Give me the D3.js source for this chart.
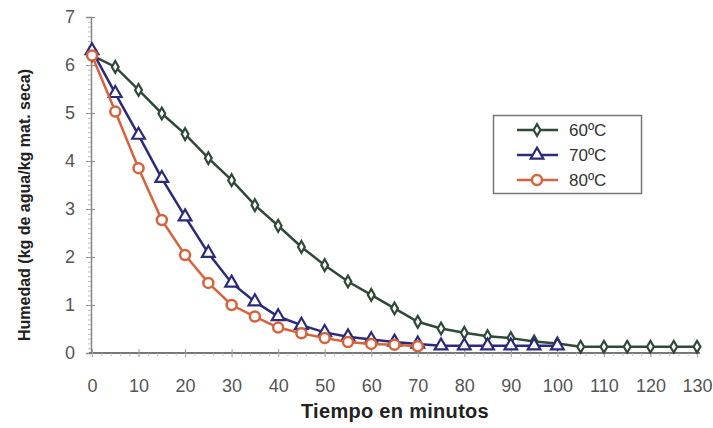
<!DOCTYPE html>
<html><head><meta charset="utf-8">
<script src="https://cdn.jsdelivr.net/npm/d3@7"></script>
<style>body{margin:0;background:#fff;}svg{display:block;}</style>
</head><body>
<svg id="c" width="713" height="428"></svg>
<script>
const times60 = [0,5,10,15,20,25,30,35,40,45,50,55,60,65,70,75,80,85,90,95,100,105,110,115,120,125,130];
const hum60 = [6.2,5.96,5.48,4.99,4.56,4.06,3.6,3.08,2.65,2.21,1.83,1.49,1.21,0.93,0.65,0.51,0.42,0.35,0.31,0.24,0.2,0.13,0.13,0.13,0.13,0.13,0.13];
const times70 = [0,5,10,15,20,25,30,35,40,45,50,55,60,65,70,75,80,85,90,95,100];
const hum70 = [6.3,5.41,4.54,3.64,2.84,2.08,1.46,1.07,0.76,0.58,0.43,0.34,0.28,0.23,0.19,0.15,0.15,0.15,0.15,0.15,0.15];
const times80 = [0,5,10,15,20,25,30,35,40,45,50,55,60,65,70];
const hum80 = [6.2,5.03,3.85,2.77,2.04,1.46,1.0,0.76,0.53,0.41,0.31,0.23,0.19,0.17,0.14];
const xTicks = [0,10,20,30,40,50,60,70,80,90,100,110,120,130];
const yTicks = [0,1,2,3,4,5,6,7];
const seriesNames = ["60ºC","70ºC","80ºC"];
const xTitle = "Tiempo en minutos";
const yTitle = "Humedad (kg de agua/kg mat. seca)";

const colors = ["#2f4a36","#2b2b7e","#d6633b"];
const svg = d3.select("#c");
const x = d3.scaleLinear().domain([0,130]).range([92,697]);
const y = d3.scaleLinear().domain([0,7]).range([353,17]);
const font = "Arial, 'Liberation Sans', sans-serif";

// Y axis
const yAxis = d3.axisLeft(y).tickValues(yTicks).tickFormat(d3.format("d")).tickSize(5).tickPadding(11);
const gy = svg.append("g").attr("transform","translate(91,0)").call(yAxis);
gy.select(".domain").attr("stroke","#888").attr("stroke-width",1.5);
gy.selectAll(".tick line").attr("stroke","#888").attr("x2",-5).attr("x1",4);
gy.selectAll(".tick text").attr("font-family",font).attr("font-size",18).attr("fill","#555");
// y minor ticks
const gym = svg.append("g").attr("transform","translate(91,0)")
  .call(d3.axisLeft(y).tickValues(d3.range(0,70).map(d=>d/10)).tickSize(3).tickFormat(""));
gym.select(".domain").remove();
gym.selectAll(".tick line").attr("stroke","#aaa").attr("stroke-width",0.8);

// X axis
const xAxis = d3.axisBottom(x).tickValues(xTicks).tickFormat(d3.format("d")).tickSize(4).tickPadding(22);
const gx = svg.append("g").attr("transform","translate(0,353)").call(xAxis);
gx.select(".domain").attr("stroke","#777").attr("stroke-width",2).attr("d","M89,0H700");
gx.selectAll(".tick line").attr("stroke","#999").attr("y1",-4);
gx.selectAll(".tick text").attr("font-family",font).attr("font-size",18).attr("fill","#555");
const gxm = svg.append("g").attr("transform","translate(0,353)")
  .call(d3.axisBottom(x).tickValues(d3.range(0,131,2)).tickSize(3).tickFormat(""));
gxm.select(".domain").remove();
gxm.selectAll(".tick line").attr("stroke","#bbb").attr("stroke-width",0.8);

// titles
svg.append("text").attr("x",395).attr("y",418).attr("text-anchor","middle")
  .attr("font-family",font).attr("font-weight","bold").attr("font-size",20).attr("letter-spacing",0.3)
  .attr("fill","#222").text(xTitle);
svg.append("text").attr("transform","translate(30,205) rotate(-90)").attr("text-anchor","middle")
  .attr("font-family",font).attr("font-weight","bold").attr("font-size",16).attr("fill","#222").text(yTitle);

const series = [
  {t:times60, v:hum60, c:colors[0], m:"diamond"},
  {t:times70, v:hum70, c:colors[1], m:"triangle"},
  {t:times80, v:hum80, c:colors[2], m:"circle"}
];
const line = d3.line().x(d=>x(d[0])).y(d=>y(d[1]));
function marker(g, type, color){
  if(type==="circle"){
    g.append("circle").attr("r",5).attr("fill","#fff").attr("stroke",color).attr("stroke-width",2.5);
  } else if(type==="triangle"){
    g.append("path").attr("d",d3.symbol(d3.symbolTriangle,70)()).attr("fill","#fff").attr("stroke",color).attr("stroke-width",2.2);
  } else {
    g.append("path").attr("d",d3.symbol(d3.symbolDiamond,40)()).attr("fill","#fff").attr("stroke",color).attr("stroke-width",2.2);
  }
}
series.forEach(s=>{
  const pts = s.t.map((t,i)=>[t,s.v[i]]);
  svg.append("path").datum(pts).attr("d",line).attr("fill","none").attr("stroke",s.c).attr("stroke-width",2.5);
  pts.forEach(p=>{
    const g = svg.append("g").attr("transform",`translate(${x(p[0])},${y(p[1])})`);
    marker(g,s.m,s.c);
  });
});

// legend
const lg = svg.append("g");
lg.append("rect").attr("x",493.5).attr("y",115.5).attr("width",148).attr("height",78)
  .attr("fill","#fff").attr("stroke","#777").attr("stroke-width",1.5);
seriesNames.forEach((n,i)=>{
  const cy = 130 + i*25;
  lg.append("line").attr("x1",517).attr("x2",558).attr("y1",cy).attr("y2",cy).attr("stroke",series[i].c).attr("stroke-width",2.5);
  const g = lg.append("g").attr("transform",`translate(537,${cy})`);
  marker(g,series[i].m,series[i].c);
  lg.append("text").attr("x",569).attr("y",cy+6).attr("font-family",font).attr("font-size",17).attr("fill","#333").text(n);
});
</script>
</body></html>
